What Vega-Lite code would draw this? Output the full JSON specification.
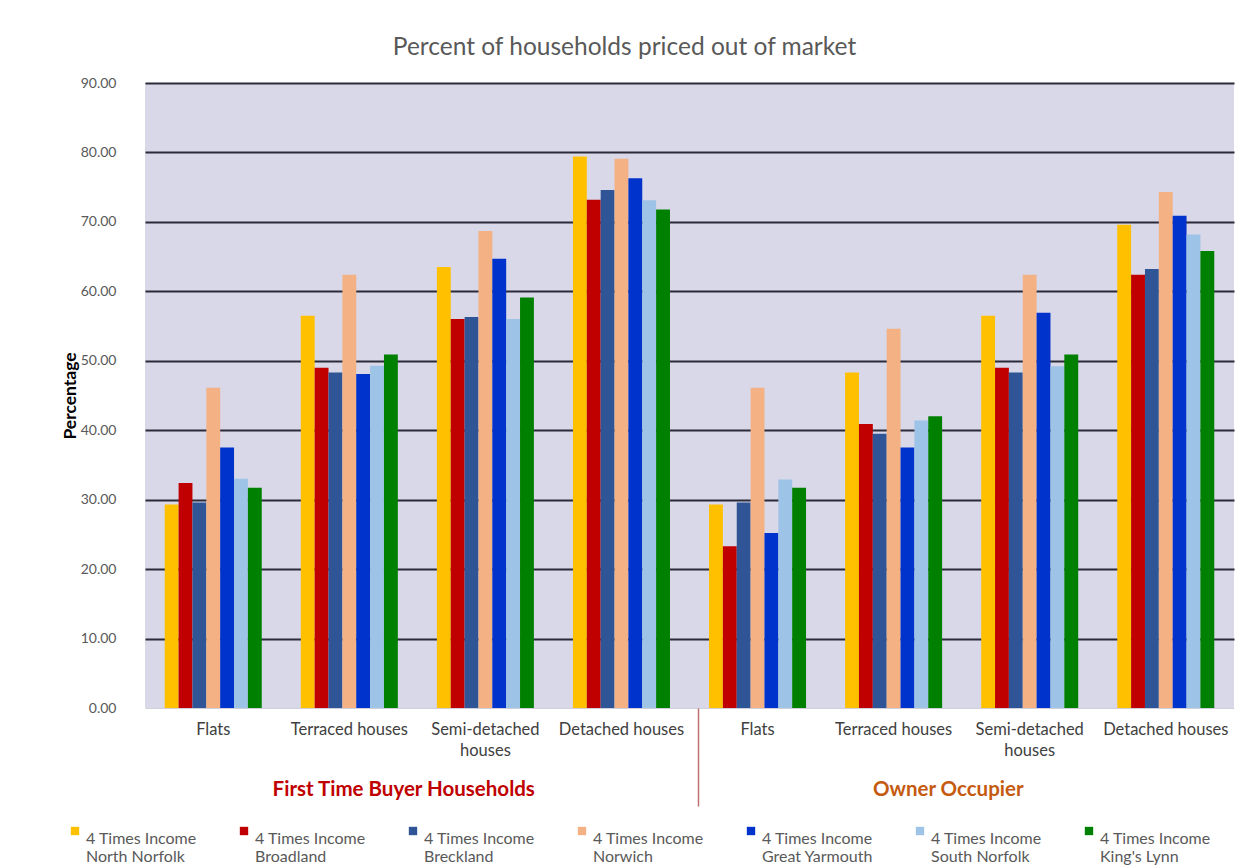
{
  "$schema": "https://vega.github.io/schema/vega-lite/v6.json",
  "width": 1089,
  "height": 625,
  "autosize": {"type": "none"},
  "padding": {"left": 145, "top": 83, "right": 9, "bottom": 157},
  "background": "white",
  "config": {
    "font": "Lato",
    "view": {"fill": "#D9D8E8", "stroke": null}
  },
  "title": {
    "text": "Percent of households priced out of market",
    "fontSize": 24.5,
    "fontWeight": "normal",
    "color": "#595959",
    "font": "Lato",
    "anchor": "middle",
    "frame": "group",
    "dx": -65,
    "offset": 16
  },
  "data": {
    "values": [
      {"g": "First Time Buyer Households", "cat": "A Flats", "s": "4 Times Income North Norfolk", "v": 29.3},
      {"g": "First Time Buyer Households", "cat": "A Flats", "s": "4 Times Income Broadland", "v": 32.4},
      {"g": "First Time Buyer Households", "cat": "A Flats", "s": "4 Times Income Breckland", "v": 29.6},
      {"g": "First Time Buyer Households", "cat": "A Flats", "s": "4 Times Income Norwich", "v": 46.1},
      {"g": "First Time Buyer Households", "cat": "A Flats", "s": "4 Times Income Great Yarmouth", "v": 37.5},
      {"g": "First Time Buyer Households", "cat": "A Flats", "s": "4 Times Income South Norfolk", "v": 33.0},
      {"g": "First Time Buyer Households", "cat": "A Flats", "s": "4 Times Income King's Lynn", "v": 31.7},
      {"g": "First Time Buyer Households", "cat": "A Terraced houses", "s": "4 Times Income North Norfolk", "v": 56.5},
      {"g": "First Time Buyer Households", "cat": "A Terraced houses", "s": "4 Times Income Broadland", "v": 49.0},
      {"g": "First Time Buyer Households", "cat": "A Terraced houses", "s": "4 Times Income Breckland", "v": 48.3},
      {"g": "First Time Buyer Households", "cat": "A Terraced houses", "s": "4 Times Income Norwich", "v": 62.4},
      {"g": "First Time Buyer Households", "cat": "A Terraced houses", "s": "4 Times Income Great Yarmouth", "v": 48.1},
      {"g": "First Time Buyer Households", "cat": "A Terraced houses", "s": "4 Times Income South Norfolk", "v": 49.3},
      {"g": "First Time Buyer Households", "cat": "A Terraced houses", "s": "4 Times Income King's Lynn", "v": 50.9},
      {"g": "First Time Buyer Households", "cat": "A Semi-detached houses", "s": "4 Times Income North Norfolk", "v": 63.5},
      {"g": "First Time Buyer Households", "cat": "A Semi-detached houses", "s": "4 Times Income Broadland", "v": 56.0},
      {"g": "First Time Buyer Households", "cat": "A Semi-detached houses", "s": "4 Times Income Breckland", "v": 56.3},
      {"g": "First Time Buyer Households", "cat": "A Semi-detached houses", "s": "4 Times Income Norwich", "v": 68.7},
      {"g": "First Time Buyer Households", "cat": "A Semi-detached houses", "s": "4 Times Income Great Yarmouth", "v": 64.7},
      {"g": "First Time Buyer Households", "cat": "A Semi-detached houses", "s": "4 Times Income South Norfolk", "v": 56.0},
      {"g": "First Time Buyer Households", "cat": "A Semi-detached houses", "s": "4 Times Income King's Lynn", "v": 59.1},
      {"g": "First Time Buyer Households", "cat": "A Detached houses", "s": "4 Times Income North Norfolk", "v": 79.4},
      {"g": "First Time Buyer Households", "cat": "A Detached houses", "s": "4 Times Income Broadland", "v": 73.2},
      {"g": "First Time Buyer Households", "cat": "A Detached houses", "s": "4 Times Income Breckland", "v": 74.6},
      {"g": "First Time Buyer Households", "cat": "A Detached houses", "s": "4 Times Income Norwich", "v": 79.1},
      {"g": "First Time Buyer Households", "cat": "A Detached houses", "s": "4 Times Income Great Yarmouth", "v": 76.3},
      {"g": "First Time Buyer Households", "cat": "A Detached houses", "s": "4 Times Income South Norfolk", "v": 73.1},
      {"g": "First Time Buyer Households", "cat": "A Detached houses", "s": "4 Times Income King's Lynn", "v": 71.8},
      {"g": "Owner Occupier", "cat": "B Flats", "s": "4 Times Income North Norfolk", "v": 29.3},
      {"g": "Owner Occupier", "cat": "B Flats", "s": "4 Times Income Broadland", "v": 23.3},
      {"g": "Owner Occupier", "cat": "B Flats", "s": "4 Times Income Breckland", "v": 29.6},
      {"g": "Owner Occupier", "cat": "B Flats", "s": "4 Times Income Norwich", "v": 46.1},
      {"g": "Owner Occupier", "cat": "B Flats", "s": "4 Times Income Great Yarmouth", "v": 25.2},
      {"g": "Owner Occupier", "cat": "B Flats", "s": "4 Times Income South Norfolk", "v": 32.9},
      {"g": "Owner Occupier", "cat": "B Flats", "s": "4 Times Income King's Lynn", "v": 31.7},
      {"g": "Owner Occupier", "cat": "B Terraced houses", "s": "4 Times Income North Norfolk", "v": 48.3},
      {"g": "Owner Occupier", "cat": "B Terraced houses", "s": "4 Times Income Broadland", "v": 40.9},
      {"g": "Owner Occupier", "cat": "B Terraced houses", "s": "4 Times Income Breckland", "v": 39.5},
      {"g": "Owner Occupier", "cat": "B Terraced houses", "s": "4 Times Income Norwich", "v": 54.6},
      {"g": "Owner Occupier", "cat": "B Terraced houses", "s": "4 Times Income Great Yarmouth", "v": 37.5},
      {"g": "Owner Occupier", "cat": "B Terraced houses", "s": "4 Times Income South Norfolk", "v": 41.4},
      {"g": "Owner Occupier", "cat": "B Terraced houses", "s": "4 Times Income King's Lynn", "v": 42.0},
      {"g": "Owner Occupier", "cat": "B Semi-detached houses", "s": "4 Times Income North Norfolk", "v": 56.5},
      {"g": "Owner Occupier", "cat": "B Semi-detached houses", "s": "4 Times Income Broadland", "v": 49.0},
      {"g": "Owner Occupier", "cat": "B Semi-detached houses", "s": "4 Times Income Breckland", "v": 48.3},
      {"g": "Owner Occupier", "cat": "B Semi-detached houses", "s": "4 Times Income Norwich", "v": 62.4},
      {"g": "Owner Occupier", "cat": "B Semi-detached houses", "s": "4 Times Income Great Yarmouth", "v": 56.9},
      {"g": "Owner Occupier", "cat": "B Semi-detached houses", "s": "4 Times Income South Norfolk", "v": 49.2},
      {"g": "Owner Occupier", "cat": "B Semi-detached houses", "s": "4 Times Income King's Lynn", "v": 50.9},
      {"g": "Owner Occupier", "cat": "B Detached houses", "s": "4 Times Income North Norfolk", "v": 69.6},
      {"g": "Owner Occupier", "cat": "B Detached houses", "s": "4 Times Income Broadland", "v": 62.4},
      {"g": "Owner Occupier", "cat": "B Detached houses", "s": "4 Times Income Breckland", "v": 63.2},
      {"g": "Owner Occupier", "cat": "B Detached houses", "s": "4 Times Income Norwich", "v": 74.3},
      {"g": "Owner Occupier", "cat": "B Detached houses", "s": "4 Times Income Great Yarmouth", "v": 70.9},
      {"g": "Owner Occupier", "cat": "B Detached houses", "s": "4 Times Income South Norfolk", "v": 68.2},
      {"g": "Owner Occupier", "cat": "B Detached houses", "s": "4 Times Income King's Lynn", "v": 65.8}
    ]
  },
  "layer": [
    {
      "mark": {"type": "bar"},
      "encoding": {
        "x": {
          "field": "cat",
          "type": "nominal",
          "sort": null,
          "scale": {"paddingInner": 0.287, "paddingOuter": 0.145},
          "axis": {
            "title": null,
            "labelAngle": 0,
            "labelFontSize": 16.5,
            "labelColor": "#404040",
            "labelPadding": 13,
            "labelLineHeight": 21,
            "labelLimit": 300,
            "ticks": false,
            "domain": true,
            "domainColor": "#D0D0D8",
            "domainWidth": 1,
            "labelExpr": "indexof(datum.label, 'Semi') >= 0 ? ['Semi-detached', 'houses'] : substring(datum.label, 2)"
          }
        },
        "xOffset": {
          "field": "s",
          "type": "nominal",
          "sort": null,
          "scale": {"paddingInner": 0, "paddingOuter": 0}
        },
        "y": {
          "field": "v",
          "type": "quantitative",
          "scale": {"domain": [0, 90]},
          "axis": {
            "title": "Percentage",
            "titleFontSize": 17.5,
            "titleFontWeight": "bold",
            "titleColor": "#000000",
            "titlePadding": 1,
            "values": [0, 10, 20, 30, 40, 50, 60, 70, 80, 90],
            "format": ".2f",
            "labelFontSize": 14,
            "labelColor": "#595959",
            "labelPadding": 29,
            "ticks": false,
            "domain": false,
            "grid": true,
            "gridColor": {"condition": {"test": "datum.value == 0", "value": "transparent"}, "value": "#2A2A38"},
            "gridWidth": 2.2,
            "gridOpacity": 1
          }
        },
        "color": {
          "field": "s",
          "type": "nominal",
          "sort": null,
          "scale": {
            "domain": ["4 Times Income North Norfolk", "4 Times Income Broadland", "4 Times Income Breckland", "4 Times Income Norwich", "4 Times Income Great Yarmouth", "4 Times Income South Norfolk", "4 Times Income King's Lynn"],
            "range": ["#FFC000", "#C00000", "#2F5597", "#F4B183", "#0033CC", "#9DC3E6", "#008000"]
          },
          "legend": {
            "title": null,
            "orient": "none",
            "legendX": -78,
            "legendY": 740,
            "direction": "horizontal",
            "columns": 7,
            "gridAlign": "all",
            "columnPadding": 39,
            "symbolType": "square",
            "symbolSize": 70,
            "symbolStrokeWidth": 0,
            "symbolOpacity": 1,
            "labelFontSize": 16,
            "labelColor": "#595959",
            "labelLimit": 200,
            "labelOffset": 3,
            "labelBaseline": "top",
            "labelLineHeight": 21,
            "labelExpr": "['4 Times Income', slice(datum.label, 15)]"
          }
        }
      }
    },
    {
      "mark": {"type": "rule", "opacity": 0},
      "encoding": {
        "x": {
          "field": "g",
          "type": "nominal",
          "sort": null,
          "scale": {"paddingInner": 0, "paddingOuter": 0},
          "axis": {
            "orient": "bottom",
            "title": null,
            "labelAngle": 0,
            "domain": false,
            "grid": false,
            "ticks": true,
            "bandPosition": 0,
            "tickSize": 98,
            "tickWidth": 1.5,
            "tickOffset": 8,
            "tickColor": {"condition": {"test": "datum.value == 'Owner Occupier'", "value": "#C07070"}, "value": "transparent"},
            "labelPadding": -27,
            "labelOffset": -22,
            "labelLimit": 600,
            "labelFontSize": 20.5,
            "labelFontWeight": "bold",
            "labelColor": {"condition": {"test": "datum.value == 'Owner Occupier'", "value": "#C55A11"}, "value": "#C00000"}
          }
        }
      }
    }
  ],
  "resolve": {"scale": {"x": "independent"}, "axis": {"x": "independent"}}
}
